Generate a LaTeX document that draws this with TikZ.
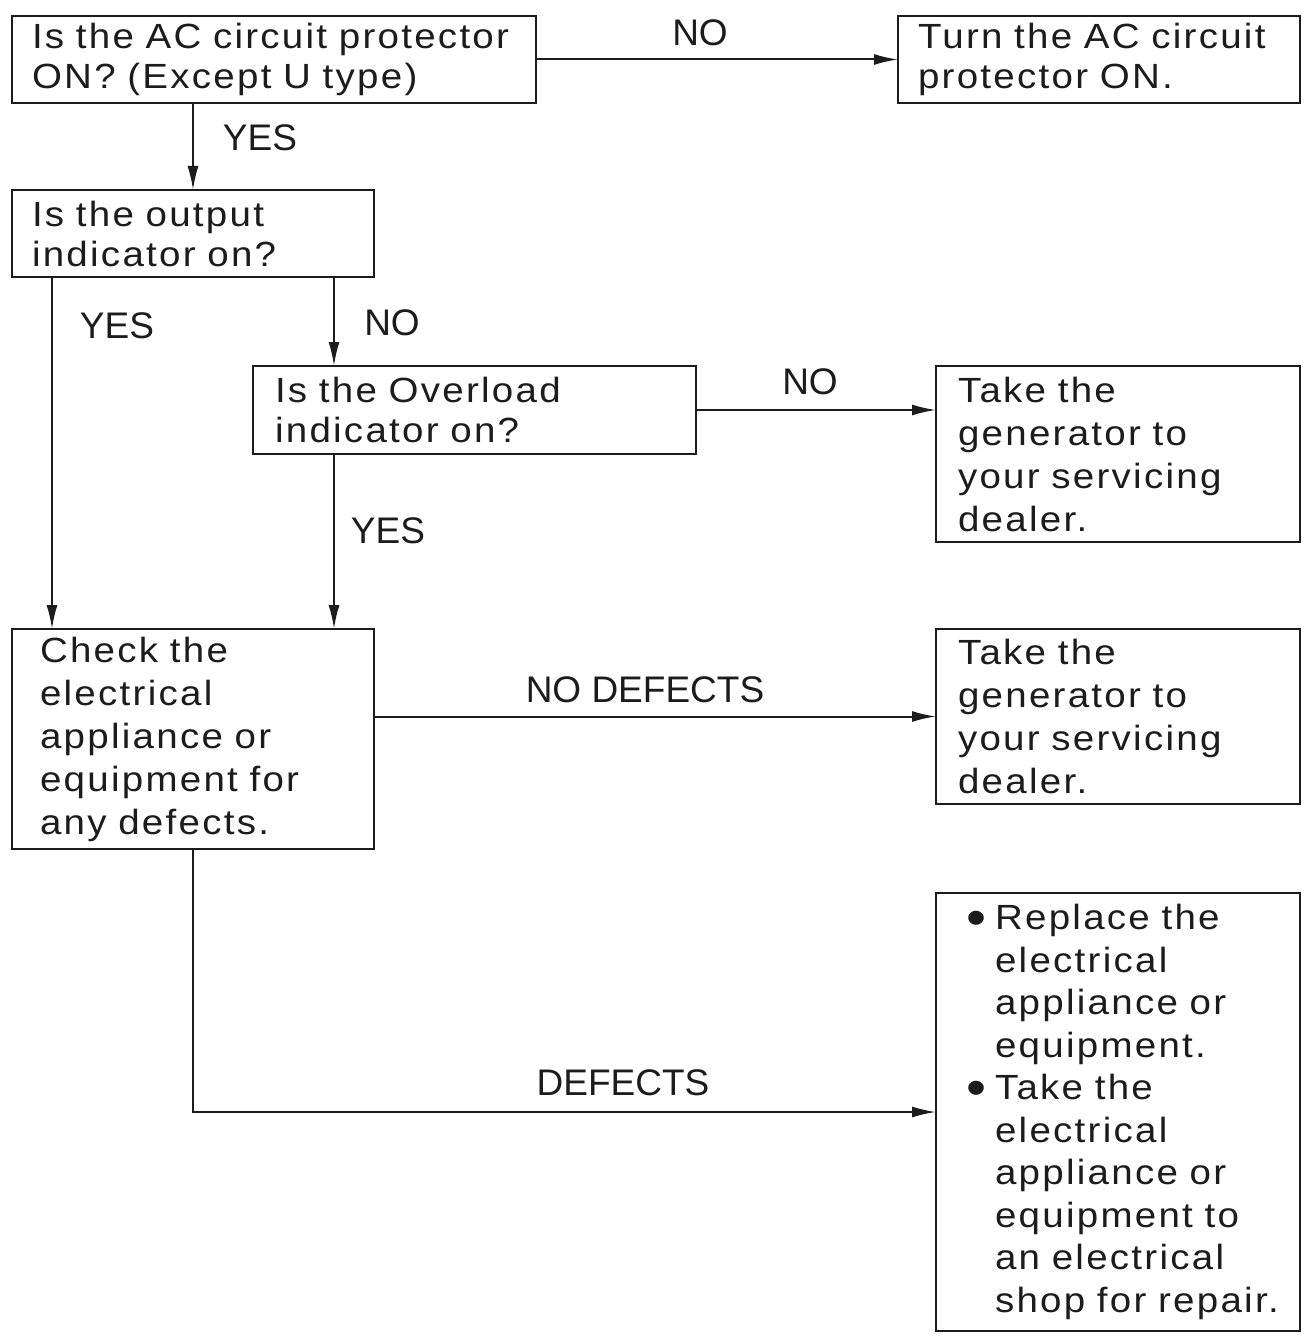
\documentclass[tikz,border=0pt]{standalone}
\usepackage{fontspec}
\setmainfont{Liberation Sans}
\newfontfamily\boxfont{Liberation Sans}[FakeStretch=1.1,LetterSpace=6.5,WordSpace=1.3]
\usetikzlibrary{arrows.meta}
\definecolor{ink}{HTML}{1C1C1C}
\newcommand{\bul}{\makebox[29pt][l]{\raisebox{-6pt}{\fontsize{52}{40}\selectfont •}}}
\newcommand{\ind}{\hspace*{29pt}}
\begin{document}
\begin{tikzpicture}[x=1pt,y=-1pt,
  box/.style={draw=ink,line width=2pt,anchor=north west,inner ysep=0pt,outer sep=0pt,
    align=left,text=ink,font=\boxfont\fontsize{35}{40}\selectfont},
  tallbox/.style={box,font=\boxfont\fontsize{35}{43}\selectfont},
  lbl/.style={inner sep=0pt,text=ink,font=\fontsize{37}{40}\selectfont},
  arr/.style={draw=ink,line width=2pt,-{Latex[length=24pt,width=11pt]}}]
\fill[white] (0,0) rectangle (1304,1337);
\useasboundingbox (0,0) rectangle (1304,1337);
% boxes
\node[box,inner xsep=20pt,text width=484pt,minimum height=87pt] (A) at (12,16)
  {Is the AC circuit protector\\ON? (Except U type)};
\node[box,inner xsep=20pt,text width=362pt,minimum height=87pt] (B) at (898,16)
  {Turn the AC circuit\\protector ON.};
\node[box,inner xsep=20pt,text width=322pt,minimum height=87pt] (C) at (12,190)
  {Is the output\\indicator on?};
\node[box,inner xsep=22pt,text width=399pt,minimum height=88pt] (D) at (253,366)
  {Is the Overload\\indicator on?};
\node[tallbox,inner xsep=22pt,text width=320pt,minimum height=176pt] (E) at (936,366)
  {Take the\\generator to\\your servicing\\dealer.};
\node[tallbox,inner xsep=28pt,text width=306pt,minimum height=220pt] (F) at (12,629)
  {Check the\\electrical\\appliance or\\equipment for\\any defects.};
\node[tallbox,inner xsep=22pt,text width=320pt,minimum height=175pt] (G) at (936,629)
  {Take the\\generator to\\your servicing\\dealer.};
\node[tallbox,inner xsep=8pt,text width=348pt,minimum height=438pt,
  font=\boxfont\fontsize{35}{42.5}\selectfont] (H) at (936,893)
  {\hspace*{22pt}\bul Replace the\\\hspace*{22pt}\ind electrical\\\hspace*{22pt}\ind appliance or\\\hspace*{22pt}\ind equipment.\\
   \hspace*{22pt}\bul Take the\\\hspace*{22pt}\ind electrical\\\hspace*{22pt}\ind appliance or\\\hspace*{22pt}\ind equipment to\\\hspace*{22pt}\ind an electrical\\\hspace*{22pt}\ind shop for repair.};
% labels
\node[lbl] (l1) at (700,33) {NO};
\node[lbl] (l2) at (260,138) {YES};
\node[lbl] (l3) at (117,326) {YES};
\node[lbl] (l4) at (392,323) {NO};
\node[lbl] (l5) at (810,382) {NO};
\node[lbl] (l6) at (388,531) {YES};
\node[lbl] (l7) at (645,690) {NO DEFECTS};
\node[lbl] (l8) at (623,1083) {DEFECTS};
% connector anchors
\coordinate (a1) at ([xshift=181pt]A.south west);
\coordinate (c0) at ([xshift=40pt]C.south west);
\coordinate (c1) at ([xshift=322pt]C.south west);
\coordinate (f1) at ([xshift=181pt]F.south west);
% connectors
\draw[arr] (A.east) -- (B.west);
\draw[arr] (a1) -- (a1 |- C.north);
\draw[arr] (c0) -- (c0 |- F.north);
\draw[arr] (c1) -- (c1 |- D.north);
\draw[arr] (D.east) -- (D.east -| E.west);
\draw[arr] (c1 |- D.south) -- (c1 |- F.north);
\draw[arr] (F.east |- G.west) -- (G.west);
\draw[arr] (f1) |- (H.west);
\end{tikzpicture}
\end{document}
